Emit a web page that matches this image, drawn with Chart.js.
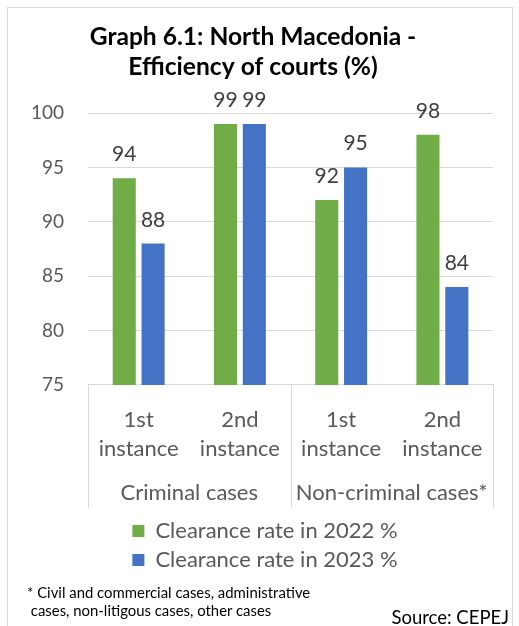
<!DOCTYPE html>
<html>
<head>
<meta charset="utf-8">
<script src="https://cdn.jsdelivr.net/npm/chart.js@4"></script>
<style>
html,body{margin:0;padding:0;background:#fff;}
#wrap{position:relative;width:519px;height:626px;overflow:hidden;font-family:Lato,sans-serif;}
#frame{position:absolute;left:7px;top:7px;width:506px;height:640px;border:1px solid #d9d9d9;box-sizing:border-box;}
#box{position:absolute;left:0;top:0;width:519px;height:626px;}
#note{position:absolute;left:27px;top:583px;font-size:14.9px;line-height:18px;color:#000;}
#src{position:absolute;right:10px;top:606px;font-size:18.5px;line-height:22px;color:#000;}
</style>
</head>
<body>
<div id="wrap">
<div id="frame"></div>
<div id="box"><canvas id="c"></canvas></div>
<div id="note">* Civil and commercial cases, administrative<br>&nbsp;cases, non-litigous cases, other cases</div>
<div id="src">Source: CEPEJ</div>
</div>
<script>
const categories=[["1st","instance"],["2nd","instance"],["1st","instance"],["2nd","instance"]];
const groups=["Criminal cases","Non-criminal cases*"];
const seriesNames=["Clearance rate in 2022 %","Clearance rate in 2023 %"];
const rate2022=[94,99,92,98];
const rate2023=[88,99,95,84];
const yMin=75, yMax=100, yStep=5;

const FONT="Lato, sans-serif";

// bar values above bars + grouped category row under the axis
const extras={
id:"extras",
afterLayout(chart){
// legend and title sit a bit right of the canvas centre in the original
chart.legend.left+=15;chart.legend.right+=15;
chart.titleBlock.left+=3;chart.titleBlock.right+=3;
},
afterDatasetsDraw(chart){
const ctx=chart.ctx;
ctx.save();
ctx.font="21px "+FONT;
ctx.fillStyle="#404040";
ctx.textAlign="center";
ctx.textBaseline="alphabetic";
chart.data.datasets.forEach((ds,di)=>{
chart.getDatasetMeta(di).data.forEach((bar,i)=>{
ctx.fillText(ds.data[i],bar.x,bar.y-17);
});
});
ctx.restore();
},
afterDraw(chart){
const ctx=chart.ctx;
const xs=chart.scales.x;
const a=chart.chartArea;
const half=(xs.getPixelForValue(1)-xs.getPixelForValue(0))/2;
ctx.save();
ctx.strokeStyle="#d9d9d9";
ctx.lineWidth=1;
[xs.getPixelForValue(0)-half,xs.getPixelForValue(2)-half,xs.getPixelForValue(3)+half].forEach(x=>{
x=Math.round(x)+0.5;
ctx.beginPath();ctx.moveTo(x,a.bottom);ctx.lineTo(x,a.bottom+123);ctx.stroke();
});
ctx.font="22px "+FONT;
ctx.fillStyle="#595959";
ctx.textAlign="center";
ctx.textBaseline="middle";
groups.forEach((g,gi)=>{
const cx=(xs.getPixelForValue(gi*2)+xs.getPixelForValue(gi*2+1))/2;
ctx.fillText(g,cx,a.bottom+108);
});
ctx.restore();
}
};

new Chart(document.getElementById("c"),{
type:"bar",
data:{
labels:categories,
datasets:[
{label:seriesNames[0],data:rate2022,backgroundColor:"#70ad47"},
{label:seriesNames[1],data:rate2023,backgroundColor:"#4472c4"}
]
},
options:{
responsive:true,
maintainAspectRatio:false,
animation:false,
categoryPercentage:0.57,
barPercentage:0.8,
layout:{padding:{left:7,right:26,top:22,bottom:45}},
plugins:{
title:{
display:true,
text:["Graph 6.1: North Macedonia -","Efficiency of courts (%)"],
color:"#000",
font:{family:FONT,size:24.6,weight:"bold",lineHeight:1.22},
padding:{top:0,bottom:31}
},
legend:{
position:"bottom",
labels:{
color:"#595959",
font:{family:FONT,size:22},
boxWidth:12,
boxHeight:12,
padding:7
}
},
tooltip:{enabled:false}
},
scales:{
x:{
grid:{display:false,drawTicks:false},
border:{color:"#d9d9d9"},
ticks:{color:"#595959",font:{family:FONT,size:22,lineHeight:1.32},padding:20},
afterFit(s){s.height+=30;}
},
y:{
min:yMin,max:yMax,
grid:{color:"#d9d9d9",drawTicks:false},
border:{display:false},
ticks:{stepSize:yStep,color:"#595959",font:{family:FONT,size:19},padding:24}
}
}
},
plugins:[extras]
});
</script>
</body>
</html>
